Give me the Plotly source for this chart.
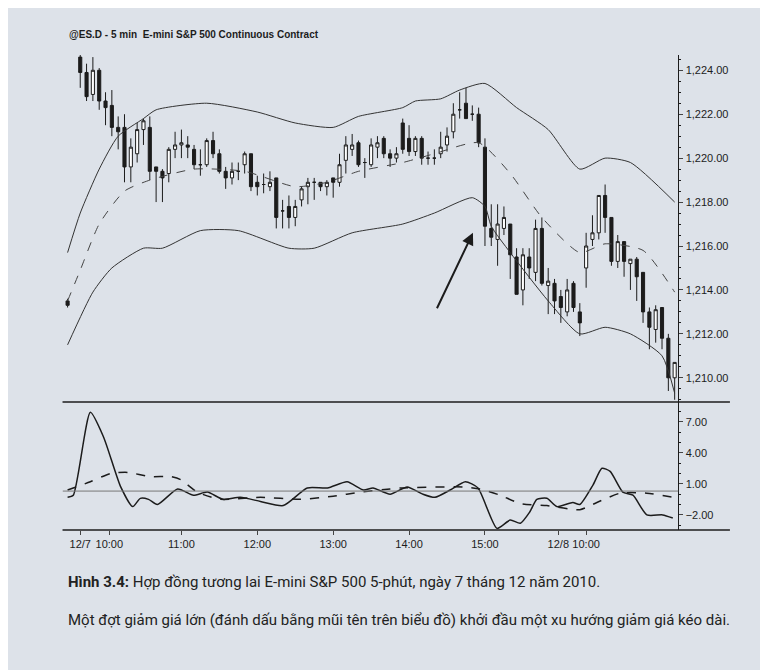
#   E-mini S&P 500 5-min chart with Bollinger bands and oscillator
import plotly.graph_objects as go

#   Candles (bar index, OHLC)
bar_idx = [0] + list(range(2, 97))
opens = [1213.5, 1224.6, 1223.9, 1222.9, 1224.0, 1222.6, 1222.4, 1221.4, 1221.4, 1219.6, 1220.2,
         1221.3, 1221.4, 1219.6, 1219.4, 1219.3, 1220.4, 1220.6, 1220.6, 1220.4, 1219.7, 1219.7,
         1220.8, 1220.2, 1219.4, 1219.1, 1219.4, 1219.7, 1220.2, 1218.9, 1218.8, 1218.7, 1219.1,
         1217.6, 1217.8, 1217.3, 1218.1, 1218.7, 1218.9, 1218.9, 1218.7, 1219.1, 1218.9, 1219.9,
         1220.4, 1220.7, 1219.8, 1219.7, 1220.5, 1220.9, 1220.2, 1220.0, 1221.6, 1220.9, 1220.3,
         1220.9, 1220.0, 1220.0, 1220.2, 1220.6, 1221.2, 1222.2, 1222.5, 1222.0, 1222.0, 1220.5,
         1216.8, 1216.3, 1216.8, 1217.0, 1215.5, 1214.0, 1215.5, 1214.8, 1216.8, 1214.2, 1214.3,
         1213.7, 1213.0, 1214.3, 1213.0, 1215.0, 1216.3, 1216.6, 1218.3, 1217.3, 1215.3, 1216.2,
         1215.2, 1215.4, 1214.8, 1213.0, 1212.2, 1213.2, 1211.8, 1210.0]
highs = [1213.6, 1224.8, 1224.3, 1224.6, 1224.1, 1223.0, 1223.1, 1221.9, 1222.0, 1220.9, 1221.6,
         1221.8, 1221.9, 1219.6, 1219.5, 1220.5, 1221.2, 1221.3, 1221.0, 1220.6, 1220.4, 1220.9,
         1221.2, 1220.4, 1219.6, 1219.8, 1219.8, 1220.3, 1220.2, 1219.2, 1219.3, 1219.4, 1219.1,
         1218.1, 1218.3, 1218.1, 1218.7, 1219.1, 1219.1, 1218.9, 1219.0, 1219.1, 1220.2, 1221.0,
         1221.1, 1220.8, 1220.0, 1220.9, 1221.0, 1221.0, 1220.4, 1220.5, 1221.8, 1221.5, 1221.0,
         1221.0, 1220.3, 1220.4, 1221.2, 1221.4, 1222.5, 1223.0, 1223.2, 1222.4, 1222.3, 1220.9,
         1217.9, 1217.9, 1217.8, 1217.0, 1215.9, 1215.9, 1215.9, 1217.2, 1217.3, 1215.0, 1214.5,
         1214.0, 1214.5, 1214.4, 1213.4, 1216.6, 1217.4, 1218.3, 1218.8, 1217.3, 1216.5, 1216.2,
         1215.4, 1215.5, 1214.8, 1213.2, 1213.3, 1213.2, 1212.0, 1210.7]
lows = [1213.2, 1223.2, 1222.6, 1222.6, 1222.2, 1221.5, 1221.0, 1220.4, 1218.9, 1218.9, 1219.8,
        1220.6, 1219.0, 1218.0, 1218.0, 1218.9, 1220.0, 1220.0, 1220.0, 1219.5, 1219.2, 1219.6,
        1220.0, 1219.3, 1218.6, 1218.8, 1219.0, 1219.3, 1218.5, 1218.3, 1218.4, 1218.5, 1216.8,
        1216.8, 1216.8, 1216.9, 1217.8, 1217.9, 1218.1, 1218.5, 1218.3, 1218.2, 1218.7, 1219.3,
        1220.1, 1219.6, 1219.1, 1219.6, 1220.0, 1220.0, 1219.6, 1219.8, 1220.2, 1220.1, 1220.1,
        1219.7, 1219.7, 1219.7, 1220.0, 1220.3, 1220.9, 1221.8, 1221.8, 1221.7, 1220.5, 1216.0,
        1216.0, 1215.1, 1216.5, 1214.5, 1213.8, 1213.3, 1214.5, 1214.4, 1214.2, 1212.9, 1212.9,
        1212.5, 1212.8, 1213.0, 1211.9, 1214.1, 1216.0, 1216.3, 1216.6, 1215.1, 1215.0, 1214.6,
        1214.0, 1213.5, 1212.5, 1211.3, 1211.6, 1211.3, 1209.4, 1209.0]
closes = [1213.3, 1223.9, 1222.8, 1224.0, 1222.6, 1222.3, 1221.4, 1221.2, 1219.6, 1220.5, 1221.3,
          1221.7, 1219.4, 1219.4, 1219.1, 1220.4, 1220.6, 1220.7, 1220.5, 1219.7, 1219.7, 1220.8,
          1220.2, 1219.4, 1219.1, 1219.4, 1219.4, 1220.2, 1218.7, 1218.7, 1218.8, 1218.9, 1217.3,
          1217.6, 1217.3, 1217.8, 1218.6, 1218.9, 1218.9, 1218.7, 1218.9, 1218.9, 1219.7, 1220.6,
          1220.6, 1219.7, 1219.8, 1220.6, 1220.7, 1220.2, 1220.0, 1220.2, 1220.4, 1220.3, 1220.9,
          1220.0, 1220.0, 1220.0, 1220.5, 1221.0, 1222.0, 1222.2, 1221.8, 1222.0, 1220.7, 1216.9,
          1216.4, 1217.0, 1217.3, 1215.6, 1213.8, 1215.6, 1215.0, 1216.8, 1214.3, 1214.4, 1213.5,
          1213.2, 1214.0, 1213.2, 1212.5, 1216.0, 1216.6, 1218.3, 1217.3, 1215.3, 1216.2, 1215.3,
          1215.4, 1214.6, 1213.0, 1212.3, 1213.1, 1211.8, 1210.0, 1210.7]

#   Bollinger bands
upper_idx = [0, 2, 5, 8, 12, 14, 22, 30, 36, 42, 46, 53, 55, 59, 62, 66, 71, 76, 81, 85, 89, 96]
upper_val = [1215.7, 1217.5, 1219.5, 1221.0, 1221.8, 1222.2, 1222.5, 1222.1, 1221.6, 1221.4, 1221.9,
             1222.3, 1222.6, 1222.7, 1223.1, 1223.4, 1222.3, 1221.3, 1219.5, 1220.0, 1219.8, 1218.0]
lower_idx = [0, 4, 7, 12, 15, 21, 27, 35, 39, 45, 53, 58, 64, 66, 67, 70, 76, 81, 85, 89, 94, 96]
lower_val = [1211.5, 1213.9, 1215.0, 1215.9, 1215.9, 1216.7, 1216.7, 1215.9, 1215.9, 1216.6, 1217.0,
             1217.5, 1218.2, 1217.8, 1216.9, 1215.7, 1213.5, 1212.0, 1212.3, 1212.0, 1211.0, 1209.3]
mid_idx = [0, 2, 5, 9, 13, 20, 28, 36, 41, 46, 53, 58, 65, 70, 75, 81, 85, 91, 96]
mid_val = [1213.5, 1214.9, 1217.0, 1218.5, 1219.0, 1219.5, 1219.4, 1218.7, 1218.9, 1219.4, 1219.8,
           1220.2, 1220.7, 1219.3, 1217.3, 1215.7, 1216.1, 1215.8, 1213.9]

#   Oscillator
osc_idx = [0, 0.9, 3.6, 5.7, 8.4, 10.3, 11.5, 12.8, 14.2, 17.4, 19.9, 22.1, 24.6, 27.3, 30.5, 34.1,
           37.9, 41.1, 44.2, 46.8, 48.3, 51.0, 53.7, 56.2, 58.1, 60.5, 62.9, 64.9, 67.9, 70.0, 71.6,
           73.1, 74.2, 75.8, 77.4, 79.9, 81.0, 83.1, 84.5, 85.8, 87.8, 89.4, 91.6, 94.1, 95.7]
osc_val = [-0.3, -0.1, 7.9, 5.5, 0.7, -1.2, -0.4, -0.5, -1.0, 0.5, -0.1, 0.2, -0.5, -0.3, -0.7, -1.1,
           0.6, 0.6, 1.2, 0.4, 0.6, 0.0, 0.7, 0.0, -0.3, 0.4, 1.2, 0.6, -3.3, -2.5, -2.8,
           -1.7, -0.5, -0.4, -1.2, -0.8, -1.0, 0.9, 2.5, 2.2, 0.2, -0.1, -2.0, -2.0, -2.3]
sig_idx = [0, 3.6, 6.8, 9.5, 13.1, 16.3, 17.9, 20.5, 24.2, 30.5, 36.8, 42.0, 46.3, 51.0, 52.6,
           62.6, 65.2, 68.4, 71.6, 75.8, 81.0, 83.7, 87.4, 91.6, 95.7]
sig_val = [0.4, 1.2, 2.0, 2.1, 1.7, 1.7, 1.4, 0.2, -0.5, -0.3, -0.5, -0.2, 0.2, 0.5, 0.6,
           0.7, 0.5, -0.1, -0.9, -1.1, -1.5, -0.8, 0.1, 0.1, -0.3]
osc_ref = 0.3

tick_pos = [2, 6.6, 18, 30, 42, 54, 66, 77.6, 82]
tick_txt = ["12/7", "10:00", "11:00", "12:00", "13:00", "14:00", "15:00", "12/8", "10:00"]

BG = "#dde2e9"
INK = "#1c1c1c"

fig = go.Figure()
fig.add_trace(go.Candlestick(x=bar_idx, open=opens, high=highs, low=lows, close=closes,
                             increasing=dict(fillcolor="white", line=dict(color=INK, width=1)),
                             decreasing=dict(fillcolor=INK, line=dict(color=INK, width=1)),
                             whiskerwidth=0, xaxis="x", yaxis="y", showlegend=False))
fig.add_trace(go.Scatter(x=upper_idx, y=upper_val, mode="lines", line=dict(color="#333", width=1, shape="spline", smoothing=0.6),
                         xaxis="x", yaxis="y", showlegend=False))
fig.add_trace(go.Scatter(x=lower_idx, y=lower_val, mode="lines", line=dict(color="#333", width=1, shape="spline", smoothing=0.6),
                         xaxis="x", yaxis="y", showlegend=False))
fig.add_trace(go.Scatter(x=mid_idx, y=mid_val, mode="lines",
                         line=dict(color="#444", width=1, dash="dash", shape="spline", smoothing=0.6),
                         xaxis="x", yaxis="y", showlegend=False))
fig.add_trace(go.Scatter(x=osc_idx, y=osc_val, mode="lines", line=dict(color=INK, width=1.5, shape="spline", smoothing=0.6),
                         xaxis="x2", yaxis="y2", showlegend=False))
fig.add_trace(go.Scatter(x=sig_idx, y=sig_val, mode="lines",
                         line=dict(color=INK, width=1.5, dash="dash", shape="spline", smoothing=0.6),
                         xaxis="x2", yaxis="y2", showlegend=False))

xr = [-0.8, 96.6]
xdom = [0.071, 0.873]
ytop_main = [0.412, 0.930]
ytop_osc = [0.221, 0.412]
fig.update_layout(
    width=768, height=670, margin=dict(l=0, r=0, t=0, b=0),
    paper_bgcolor=BG, plot_bgcolor=BG,
    font=dict(family="Liberation Sans, Arial", color=INK),
    xaxis=dict(domain=xdom, range=xr, showgrid=False, showticklabels=False, zeroline=False,
               rangeslider=dict(visible=False), anchor="y"),
    yaxis=dict(domain=ytop_main, range=[1208.9, 1224.7], side="right", anchor="x",
               showgrid=False, zeroline=False, showline=True, linecolor=INK,
               tickvals=[1210, 1212, 1214, 1216, 1218, 1220, 1222, 1224], tickformat=",.2f",
               ticks="outside", ticklen=4, tickfont=dict(size=11),
               minor=dict(dtick=0.5, ticks="outside", ticklen=2, tickcolor=INK)),
    xaxis2=dict(domain=xdom, range=xr, showgrid=False, zeroline=False, anchor="y2",
                tickvals=tick_pos, ticktext=tick_txt, ticks="outside", ticklen=4,
                tickfont=dict(size=11)),
    yaxis2=dict(domain=ytop_osc, range=[-3.45, 8.9], side="right", anchor="x2",
                showgrid=False, zeroline=False, showline=True, linecolor=INK,
                tickvals=[7, 4, 1, -2], ticktext=["7.00", "4.00", "1.00", "\u22122.00"],
                ticks="outside", ticklen=4, tickfont=dict(size=11),
                minor=dict(dtick=1, ticks="outside", ticklen=2, tickcolor=INK)),
)

# panel frame lines
fig.add_shape(type="line", xref="paper", yref="paper", x0=xdom[0], x1=0.94, y0=ytop_osc[1], y1=ytop_osc[1],
              line=dict(color=INK, width=1.5))
fig.add_shape(type="line", xref="paper", yref="paper", x0=xdom[0], x1=0.94, y0=ytop_osc[0], y1=ytop_osc[0],
              line=dict(color=INK, width=1.5))
fig.add_shape(type="line", xref="x2", yref="y2", x0=xr[0], x1=xr[1], y0=osc_ref, y1=osc_ref,
              line=dict(color="#777", width=1))

# arrow
fig.add_annotation(x=64.1, y=1216.6, ax=58.3, ay=1213.1, xref="x", yref="y", axref="x", ayref="y",
                   showarrow=True, arrowhead=2, arrowsize=1.2, arrowwidth=2, arrowcolor=INK, text="")

fig.add_annotation(x=0.077, y=0.96, xref="paper", yref="paper", xanchor="left", yanchor="middle",
                   showarrow=False, text="<b>@ES.D - 5 min  E-mini S&P 500 Continuous Contract</b>",
                   font=dict(size=10, color=INK))

fig.add_annotation(x=0.075, y=0.143, xref="paper", yref="paper", xanchor="left", yanchor="middle",
                   showarrow=False,
                   text="<b>Hình 3.4:</b> Hợp đồng tương lai E-mini S&P 500 5-phút, ngày 7 tháng 12 năm 2010.",
                   font=dict(size=15, family="Liberation Sans Narrow, Roboto", color="#222"))
fig.add_annotation(x=0.075, y=0.086, xref="paper", yref="paper", xanchor="left", yanchor="middle",
                   showarrow=False,
                   text="Một đợt giảm giá lớn (đánh dấu bằng mũi tên trên biểu đồ) khởi đầu một xu hướng giảm giá kéo dài.",
                   font=dict(size=15, family="Liberation Sans Narrow, Roboto", color="#222"))

fig.write_html("out.html")
